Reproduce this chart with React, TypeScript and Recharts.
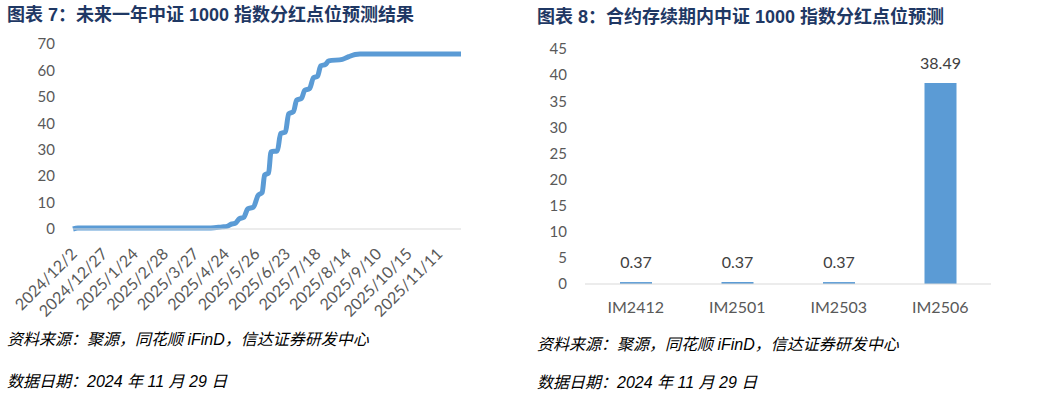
import React from 'react';
import { LineChart, Line, BarChart, Bar, XAxis, YAxis, LabelList } from 'recharts';

// 图表7: cumulative dividend points, keyed by trading-day index from 2024/12/2
const curveDay = [0, 3, 86, 93, 96, 99, 101, 103, 104, 106.5, 109, 112.5, 115.5, 118, 119.5, 122, 123.5, 127.5, 129.5, 132.5, 134.5, 137.5, 139.5, 142.5, 144.5, 147.5, 150, 152.5, 154.5, 157.5, 159.5, 168, 172, 176, 179, 242];
const curveValue = [0, 0.37, 0.37, 0.8, 1.0, 1.9, 2.1, 3.4, 4.0, 4.4, 7.6, 8.3, 12.8, 13.8, 20.4, 21.2, 29.2, 29.6, 36.2, 36.7, 43.6, 44.4, 48.8, 49.4, 52.5, 53.1, 57.2, 57.8, 61.7, 62.3, 63.6, 64.2, 65.2, 66.0, 66.2, 66.2];

const tickDay = [0, 19, 38, 57, 76, 95, 114, 133, 152, 171, 190, 209, 228];
const tickDates = ['2024/12/2', '2024/12/27', '2025/1/24', '2025/2/28', '2025/3/27', '2025/4/24', '2025/5/26', '2025/6/23', '2025/7/18', '2025/8/14', '2025/9/10', '2025/10/15', '2025/11/11'];
const leftYTicks = [0, 10, 20, 30, 40, 50, 60, 70];

// 图表8: dividend points during each contract's life
const contracts = ['IM2412', 'IM2501', 'IM2503', 'IM2506'];
const dividendPts = [0.37, 0.37, 0.37, 38.49];
const rightYTicks = [0, 5, 10, 15, 20, 25, 30, 35, 40, 45];

const lineData = curveDay.map((d, i) => ({ day: d, value: curveValue[i] }));
const barData = contracts.map((c, i) => ({ name: c, value: dividendPts[i] }));

const BLUE = '#5B9BD5';
const AXIS_GREY = '#D9D9D9';
const TICK_GREY = '#595959';
const TITLE = '#1F3864';
const tickFont = 'Lato, "Noto Sans", sans-serif';
const cjk = '"Liberation Sans", "Noto Sans CJK SC", sans-serif';

const titleStyle: React.CSSProperties = {
  position: 'absolute',
  fontFamily: cjk,
  fontWeight: 'bold',
  fontSize: 18,
  color: TITLE,
  whiteSpace: 'nowrap',
  lineHeight: '20px',
};

const noteStyle: React.CSSProperties = {
  position: 'absolute',
  fontFamily: cjk,
  fontStyle: 'italic',
  fontSize: 16,
  color: '#000',
  whiteSpace: 'nowrap',
  lineHeight: '20px',
};

export default function App() {
  return (
    <div style={{ position: 'absolute', left: 0, top: 0, width: 1050, height: 402, background: '#fff', overflow: 'hidden' }}>
      <div style={{ ...titleStyle, left: 7, top: 5 }}>图表 7：未来一年中证 1000 指数分红点位预测结果</div>
      <div style={{ ...titleStyle, left: 537, top: 7 }}>图表 8：合约存续期内中证 1000 指数分红点位预测</div>

      <div style={{ position: 'absolute', left: 0, top: 0 }}>
        <LineChart width={480} height={320} data={lineData} margin={{ top: 44, right: 19, bottom: 0, left: 0 }}>
          <XAxis
            dataKey="day"
            type="number"
            domain={[0, 242]}
            ticks={tickDay}
            interval={0}
            tickFormatter={(v: number) => tickDates[tickDay.indexOf(v)] ?? ''}
            height={91}
            tickLine={false}
            stroke={AXIS_GREY}
            tickMargin={12}
            angle={-45}
            textAnchor="end"
            tick={{ fill: TICK_GREY, fontSize: 16, fontFamily: tickFont, dx: -3 }}
          />
          <YAxis
            domain={[0, 70]}
            ticks={leftYTicks}
            width={73}
            axisLine={false}
            tickLine={false}
            tickMargin={12}
            tick={{ fill: TICK_GREY, fontSize: 15, fontFamily: tickFont }}
          />
          <Line type="monotone" dataKey="value" stroke={BLUE} strokeWidth={5} dot={false} isAnimationActive={false} />
        </LineChart>
      </div>

      <div style={{ position: 'absolute', left: 520, top: 0 }}>
        <BarChart width={530} height={320} data={barData} margin={{ top: 49, right: 59, bottom: 0, left: 0 }}>
          <XAxis
            dataKey="name"
            height={36}
            tickLine={false}
            stroke={AXIS_GREY}
            tickMargin={12}
            tick={{ fill: TICK_GREY, fontSize: 16, fontFamily: tickFont }}
          />
          <YAxis
            domain={[0, 45]}
            ticks={rightYTicks}
            width={65}
            axisLine={false}
            tickLine={false}
            tickMargin={12}
            tick={{ fill: TICK_GREY, fontSize: 15, fontFamily: tickFont }}
          />
          <Bar dataKey="value" fill={BLUE} barSize={32} isAnimationActive={false}>
            <LabelList dataKey="value" position="top" offset={14} fill="#404040" fontSize={16} fontFamily={tickFont} />
          </Bar>
        </BarChart>
      </div>

      <div style={{ ...noteStyle, left: 7, top: 330 }}>资料来源：聚源，同花顺 iFinD，信达证券研发中心</div>
      <div style={{ ...noteStyle, left: 7, top: 372 }}>数据日期：2024 年 11 月 29 日</div>
      <div style={{ ...noteStyle, left: 537, top: 335 }}>资料来源：聚源，同花顺 iFinD，信达证券研发中心</div>
      <div style={{ ...noteStyle, left: 537, top: 373 }}>数据日期：2024 年 11 月 29 日</div>
    </div>
  );
}
